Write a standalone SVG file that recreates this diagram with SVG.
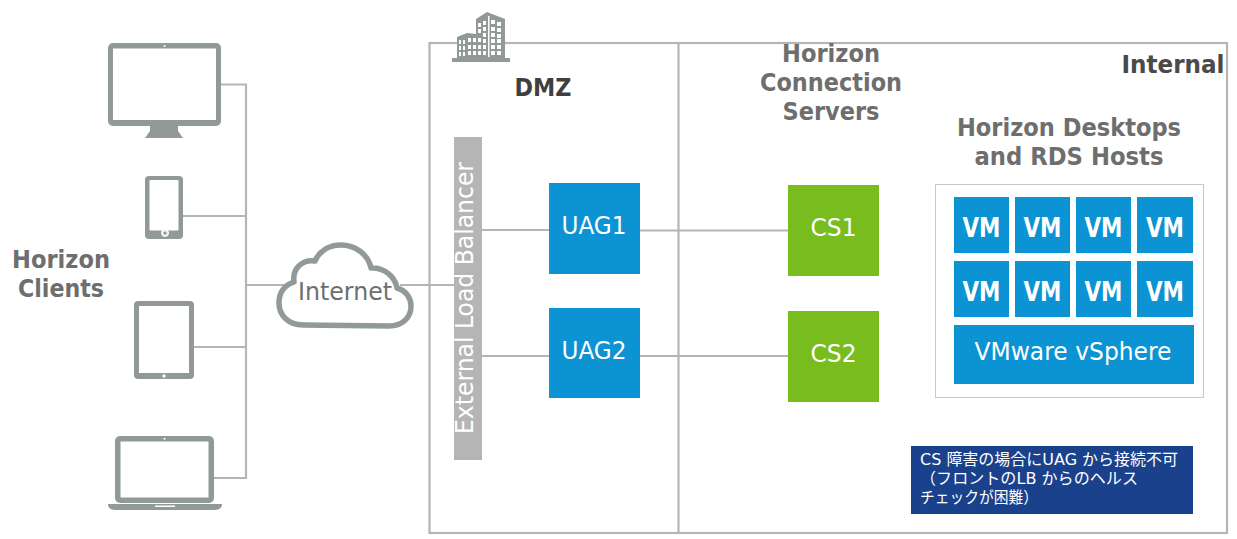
<svg xmlns="http://www.w3.org/2000/svg" width="1237" height="539" viewBox="0 0 1237 539">
<style>
text{font-family:"DejaVu Sans","Noto Sans CJK JP",sans-serif}
.ln{fill:none;stroke:#b5b5b5;stroke-width:2.200}
.ic{fill:#919a99}
.sc{fill:#fff}
.blue{fill:#0b93d3}
.green{fill:#78bc1e}
.h{font-weight:700;fill:#6e6e6e;font-size:24px;text-anchor:middle}
.w{fill:#fff;font-size:24px;text-anchor:middle}
.vm{fill:#fff;font-size:26px;font-weight:700;text-anchor:middle}
.n{fill:#fff;font-size:16px}
</style>
<rect width="1237" height="539" fill="#fff"/>
<g id="frames">
<rect class="ln" x="429.500" y="43" width="797.500" height="490"/>
<line class="ln" x1="678.500" y1="43" x2="678.500" y2="533"/>
</g>
<g id="connectors">
<path class="ln" d="M221 84.500H246V478H214M183 216H246M194 347H246M246 285H290M400 285H454M482 230H549M640 230.500H788M482 356H549M640 356H788"/>
</g>
<g id="monitor">
<rect class="ic" x="108" y="43" width="113" height="83" rx="5"/>
<rect class="sc" x="113" y="48.500" width="103" height="71.500"/>
<circle class="sc" cx="164.500" cy="46" r="1"/>
<path class="ic" d="M150 126H178V131L183 138H145L150 131Z"/>
</g>
<g id="phone">
<rect class="ic" x="145" y="176" width="38" height="63" rx="4"/>
<rect class="sc" x="149.500" y="180" width="29" height="50.500" rx="1"/>
<circle cx="165" cy="233" r="3.500" fill="#e8ecec" stroke="#fff" stroke-width="1"/>
<circle class="ic" cx="165" cy="233" r="1.600"/>
</g>
<g id="tablet">
<rect class="ic" x="134" y="301" width="60" height="78" rx="4"/>
<rect class="sc" x="139" y="306" width="50" height="67"/>
<circle class="sc" cx="164" cy="376" r="1.700"/>
</g>
<g id="laptop">
<rect class="ic" x="115" y="436" width="99" height="67" rx="5"/>
<rect class="sc" x="120.500" y="441.500" width="88" height="56"/>
<circle class="sc" cx="164.500" cy="438.800" r="1"/>
<path class="ic" d="M108 504H222C222 508 219 510 215 510H115C111 510 108 508 108 504Z"/>
<rect class="sc" x="155" y="505.500" width="20" height="1.500"/>
</g>
<g id="clients-label">
<text class="h" x="61" y="268" textLength="98" lengthAdjust="spacingAndGlyphs">Horizon</text>
<text class="h" x="61" y="297" textLength="86" lengthAdjust="spacingAndGlyphs">Clients</text>
</g>
<g id="internet">
<path d="M303 325C288 325 279 315 279 303C279 292 285 285 294 282C292 268 303 259 315 261C320 250 330 245 341 245C355 245 368 254 371 268C383 267 395 276 397 288C407 291 411 299 411 306C411 318 402 326 389 326Z" fill="#fff" stroke="#919a99" stroke-width="5.500" stroke-linejoin="round"/>
<text x="345" y="300" font-size="24" fill="#6a6f70" text-anchor="middle" textLength="94" lengthAdjust="spacingAndGlyphs">Internet</text>
</g>
<g id="building">
<path class="ic" d="M476 19L487 12L505 19V58H510V62H452V58H457V37L467 33L476 34Z"/>
<path class="sc" d="M478 23h3v4h-3zM483 21h3v4h-3zM478 29h3v4h-3zM483 27h3v4h-3zM483 33h3v4h-3zM488 16h1.500v41h-1.500zM491 20h4v4h-4zM497 22h4v4h-4zM491 27h4v4h-4zM497 28h4v4h-4zM491 33h4v4h-4zM497 34h4v4h-4zM491 39h4v4h-4zM497 39h4v4h-4zM491 45h4v4h-4zM497 45h4v4h-4zM491 51h4v4h-4zM497 51h4v4h-4zM459 40h2v4h-2zM463 40h2v4h-2zM459 46h2v4h-2zM463 46h2v4h-2zM459 52h2v4h-2zM463 52h2v4h-2zM468 38h3v4h-3zM473 38h3v4h-3zM478 38h3v4h-3zM483 39h3v4h-3zM468 45h3v4h-3zM473 45h3v4h-3zM478 45h3v4h-3zM483 45h3v4h-3zM468 51h3v4h-3zM473 51h3v4h-3zM478 51h3v4h-3zM483 51h3v4h-3z"/>
</g>
<g id="dmz-label"><text x="543" y="96" font-size="24" font-weight="700" fill="#3f3f3f" text-anchor="middle" textLength="57" lengthAdjust="spacingAndGlyphs">DMZ</text></g>
<g id="load-balancer">
<rect x="454" y="137" width="28" height="323" fill="#b5b5b5"/>
<text transform="translate(473 298) rotate(-90)" font-size="24" fill="#fff" text-anchor="middle" textLength="272" lengthAdjust="spacingAndGlyphs">External Load Balancer</text>
</g>
<g id="uag1"><rect class="blue" x="549" y="183" width="91" height="91"/><text class="w" x="594" y="234" textLength="65" lengthAdjust="spacingAndGlyphs">UAG1</text></g>
<g id="uag2"><rect class="blue" x="549" y="308" width="91" height="90"/><text class="w" x="594" y="359" textLength="65" lengthAdjust="spacingAndGlyphs">UAG2</text></g>
<g id="cs1"><rect class="green" x="788" y="185" width="91" height="91"/><text class="w" x="833.500" y="236" textLength="46" lengthAdjust="spacingAndGlyphs">CS1</text></g>
<g id="cs2"><rect class="green" x="788" y="311" width="91" height="91"/><text class="w" x="833.500" y="362" textLength="46" lengthAdjust="spacingAndGlyphs">CS2</text></g>
<g id="connection-servers-label">
<text class="h" x="831" y="62" textLength="98" lengthAdjust="spacingAndGlyphs">Horizon</text>
<text class="h" x="831" y="91" textLength="142" lengthAdjust="spacingAndGlyphs">Connection</text>
<text class="h" x="831" y="120" textLength="97" lengthAdjust="spacingAndGlyphs">Servers</text>
</g>
<g id="internal-label"><text x="1173" y="73" font-size="24" font-weight="700" fill="#4a4a4a" text-anchor="middle" textLength="103" lengthAdjust="spacingAndGlyphs">Internal</text></g>
<g id="desktops-label">
<text class="h" x="1069" y="136" textLength="224" lengthAdjust="spacingAndGlyphs">Horizon Desktops</text>
<text class="h" x="1069" y="165" textLength="189" lengthAdjust="spacingAndGlyphs">and RDS Hosts</text>
</g>
<g id="vsphere-host">
<rect x="935.500" y="184.500" width="268" height="213" fill="#fff" stroke="#c8c8c8" stroke-width="1"/>
<rect class="blue" x="954" y="197" width="55" height="56"/><text class="vm" x="981.500" y="237" textLength="38" lengthAdjust="spacingAndGlyphs">VM</text>
<rect class="blue" x="1015" y="197" width="55" height="56"/><text class="vm" x="1042.500" y="237" textLength="38" lengthAdjust="spacingAndGlyphs">VM</text>
<rect class="blue" x="1076" y="197" width="55" height="56"/><text class="vm" x="1103.500" y="237" textLength="38" lengthAdjust="spacingAndGlyphs">VM</text>
<rect class="blue" x="1137" y="197" width="56" height="56"/><text class="vm" x="1165" y="237" textLength="38" lengthAdjust="spacingAndGlyphs">VM</text>
<rect class="blue" x="954" y="261" width="55" height="56"/><text class="vm" x="981.500" y="301" textLength="38" lengthAdjust="spacingAndGlyphs">VM</text>
<rect class="blue" x="1015" y="261" width="55" height="56"/><text class="vm" x="1042.500" y="301" textLength="38" lengthAdjust="spacingAndGlyphs">VM</text>
<rect class="blue" x="1076" y="261" width="55" height="56"/><text class="vm" x="1103.500" y="301" textLength="38" lengthAdjust="spacingAndGlyphs">VM</text>
<rect class="blue" x="1137" y="261" width="56" height="56"/><text class="vm" x="1165" y="301" textLength="38" lengthAdjust="spacingAndGlyphs">VM</text>
<rect class="blue" x="954" y="325" width="240" height="59"/>
<text class="w" x="1073" y="360" textLength="197" lengthAdjust="spacingAndGlyphs">VMware vSphere</text>
</g>
<g id="note">
<rect x="911" y="446" width="282" height="68" fill="#1a418b"/>
<text class="n" x="920" y="465" textLength="258" lengthAdjust="spacingAndGlyphs">CS 障害の場合にUAG から接続不可</text>
<text class="n" x="920" y="484" textLength="218" lengthAdjust="spacingAndGlyphs">（フロントのLB からのヘルス</text>
<text class="n" x="920" y="503" textLength="118" lengthAdjust="spacingAndGlyphs">チェックが困難）</text>
</g>
</svg>
